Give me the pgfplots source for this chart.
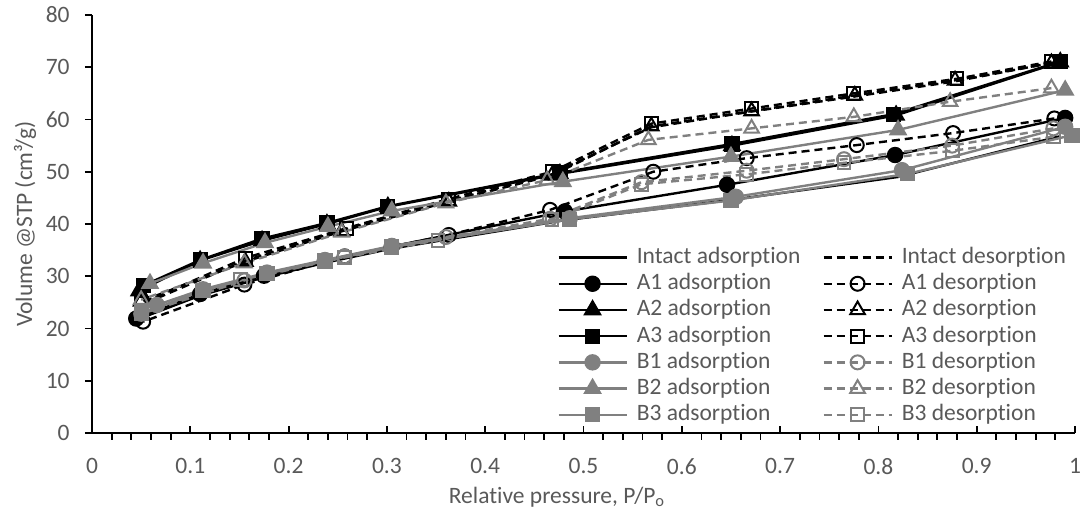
\documentclass[border=0pt]{standalone}
\usepackage{fontspec}
\setmainfont{Carlito}[Ligatures=NoCommon]
\usepackage{pgfplots}
\pgfplotsset{compat=1.18}
\definecolor{sgray}{RGB}{128,128,128}
\definecolor{tgray}{RGB}{89,89,89}
\begin{document}
\fontsize{11.75pt}{14pt}\selectfont
\begin{tikzpicture}
\begin{axis}[
  scale only axis, width=491.5pt, height=209pt,
  xmin=0, xmax=1, ymin=0, ymax=80,
  xtick={0,0.1,0.2,0.3,0.4,0.5,0.6,0.7,0.8,0.9,1},
  xticklabels={0,0.1,0.2,0.3,0.4,0.5,0.6,0.7,0.8,0.9,1},
  ytick={0,10,20,30,40,50,60,70,80},
  minor x tick num=4,
  tick align=outside,
  major tick length=3.5pt, minor tick length=3.5pt,
  major x tick style={yshift=3.5pt},
  axis x line*=bottom, axis y line*=left,
  axis line style={line width=1pt, black},
  every tick/.style={line width=0.9pt, black},
  xtick pos=bottom, ytick pos=left,
  /pgf/number format/assume math mode=true,
  tick label style={font=\fontsize{11.75pt}{14pt}\selectfont, text=tgray, inner sep=0pt},
  xticklabel style={anchor=north, yshift=-9pt},
  yticklabel style={anchor=east, xshift=-7.5pt},
  xlabel={Relative pressure, P/P\textsubscript{o}},
  ylabel={Volume @STP (cm³/g)},
  label style={font=\fontsize{11.75pt}{14pt}\selectfont, text=tgray},
  xlabel style={at={(axis description cs:0.473,-0.153)}, anchor=center},
  ylabel style={at={(axis description cs:-0.068,0.5)}, anchor=center},
  clip=false,
  legend columns=2,
  legend cell align=left,
  legend style={at={(axis description cs:0.473,0.452)}, anchor=north west, draw=none, fill=none, inner sep=0pt,
    font=\fontsize{11.75pt}{14pt}\selectfont, text=tgray,
    nodes={inner sep=1pt, text height=8.5pt, text depth=2.6pt},
    /tikz/every odd column/.append style={column sep=3.5pt},
    /tikz/every even column/.append style={column sep=10pt}},
  legend image code/.code={\draw[mark repeat=2,mark phase=2,#1] plot coordinates {(0pt,0pt) (17pt,0pt) (34pt,0pt)};},
  ads/.style={line width=1.2pt},
  des/.style={line width=1.2pt, dash pattern=on 4pt off 2.5pt},
]
% Intact adsorption
\addplot[ads, black, mark=none] coordinates {(0.05,22)(0.11,26.3)(0.175,29.8)(0.24,32.7)(0.305,35.3)(0.48,40.7)(0.65,44.6)(0.82,49)(0.985,56.8)};
\addlegendentry{Intact adsorption}
% Intact desorption
\addplot[des, black, mark=none] coordinates {(0.978,70.9)(0.878,67.3)(0.776,64.4)(0.67,61.5)(0.569,58.5)(0.468,49.6)(0.363,44.4)(0.256,38.9)(0.156,33)(0.05,24.5)};
\addlegendentry{Intact desorption}
% A1
\addplot[ads, black, mark=*, mark size=3.5pt, mark options={solid, fill=black, draw=black}] coordinates {(0.045,21.9)(0.11,26.6)(0.175,30.1)(0.237,33)(0.305,35.7)(0.481,42.4)(0.646,47.5)(0.817,53.2)(0.99,60.3)};
\addlegendentry{A1 adsorption}
\addplot[des, black, mark=o, mark size=3.5pt, mark options={solid, draw=black, line width=1pt}] coordinates {(0.979,60.2)(0.876,57.4)(0.778,55.1)(0.666,52.6)(0.571,50)(0.466,42.7)(0.363,37.9)(0.257,33.8)(0.155,28.4)(0.052,21.3)};
\addlegendentry{A1 desorption}
% A2
\addplot[ads, black, mark=triangle*, mark size=4.2pt, mark options={solid, fill=black, draw=black}] coordinates {(0.048,27.2)(0.11,33)(0.173,36.8)(0.239,40)(0.301,43.3)(0.476,49.6)(0.651,55)(0.818,60.8)(0.985,71)};
\addlegendentry{A2 adsorption}
\addplot[des, black, mark=triangle, mark size=4.2pt, mark options={solid, draw=black, line width=1pt}] coordinates {(0.976,70.8)(0.878,67.5)(0.776,64.6)(0.671,61.6)(0.569,58.7)(0.468,49.3)(0.363,44.3)(0.254,38.6)(0.156,32.8)(0.05,25.2)};
\addlegendentry{A2 desorption}
% A3
\addplot[ads, black, mark=square*, mark size=3.2pt, mark options={solid, fill=black, draw=black}] coordinates {(0.052,28.2)(0.11,33.1)(0.173,37.2)(0.239,40.2)(0.301,43.4)(0.476,49.8)(0.651,55.3)(0.815,61)(0.985,71.1)};
\addlegendentry{A3 adsorption}
\addplot[des, black, mark=square, mark size=3.2pt, mark options={solid, draw=black, line width=1pt}] coordinates {(0.976,71.1)(0.88,67.8)(0.775,65)(0.671,62.1)(0.569,59.2)(0.468,50)(0.363,44.8)(0.259,39.2)(0.156,33.5)(0.05,24.8)};
\addlegendentry{A3 desorption}
% B1
\addplot[ads, sgray, mark=*, mark size=3.5pt, mark options={solid, fill=sgray, draw=sgray}] coordinates {(0.066,24.5)(0.113,27.5)(0.178,30.7)(0.237,33.1)(0.305,35.8)(0.486,41.1)(0.655,45.2)(0.824,50.3)(0.99,58.6)};
\addlegendentry{B1 adsorption}
\addplot[des, sgray, mark=o, mark size=3.5pt, mark options={solid, draw=sgray, line width=1pt}] coordinates {(0.978,58.3)(0.875,55)(0.765,52.4)(0.666,50.2)(0.559,48)(0.466,41)(0.36,37.5)(0.257,33.8)(0.155,29.2)(0.05,22.8)};
\addlegendentry{B1 desorption}
% B2
\addplot[ads, sgray, mark=triangle*, mark size=4.2pt, mark options={solid, fill=sgray, draw=sgray}] coordinates {(0.059,28.6)(0.113,32.5)(0.176,36.4)(0.24,39.5)(0.305,42.5)(0.479,48.1)(0.65,52.9)(0.82,58)(0.99,65.6)};
\addlegendentry{B2 adsorption}
\addplot[des, sgray, mark=triangle, mark size=4.2pt, mark options={solid, draw=sgray, line width=1pt}] coordinates {(0.976,66)(0.873,63.4)(0.775,60.5)(0.671,58.3)(0.566,56.1)(0.463,48.4)(0.36,44)(0.254,38.4)(0.155,32.5)(0.05,25.5)};
\addlegendentry{B2 desorption}
% B3
\addplot[ads, sgray, mark=square*, mark size=3.2pt, mark options={solid, fill=sgray, draw=sgray}] coordinates {(0.05,22.8)(0.113,27.3)(0.178,30.5)(0.237,32.9)(0.305,35.6)(0.486,40.9)(0.65,44.5)(0.83,49.6)(0.997,57)};
\addlegendentry{B3 adsorption}
\addplot[des, sgray, mark=square, mark size=3.2pt, mark options={solid, draw=sgray, line width=1pt}] coordinates {(0.978,56.7)(0.875,54)(0.765,51.7)(0.666,49.5)(0.559,47.6)(0.468,40.8)(0.352,36.9)(0.257,33.6)(0.151,29.3)(0.05,23)};
\addlegendentry{B3 desorption}
\end{axis}
\path ([xshift=-46pt,yshift=-44pt]current axis.south west) rectangle ([xshift=4pt,yshift=7.5pt]current axis.north east);
\end{tikzpicture}
\end{document}
